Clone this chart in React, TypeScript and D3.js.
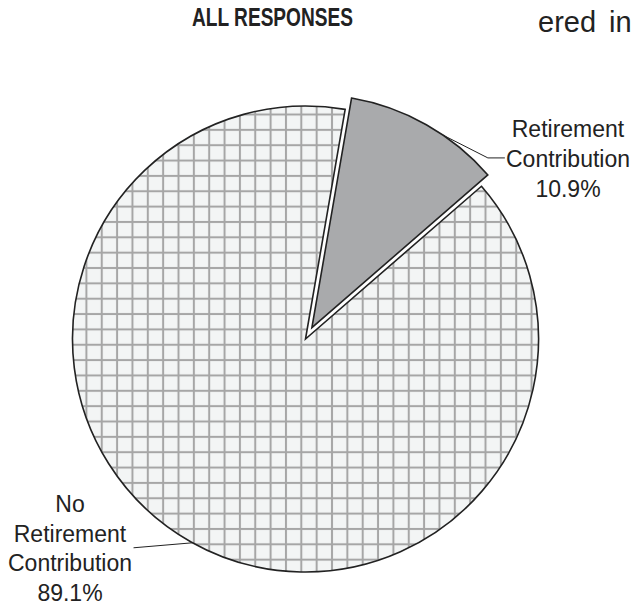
import { useEffect, useRef } from 'react';
import * as d3 from 'd3';

const categories = ['Retirement Contribution', 'No Retirement Contribution'];
const shares = [10.9, 89.1];
const labelLines = [
  ['Retirement', 'Contribution', '10.9%'],
  ['No', 'Retirement', 'Contribution', '89.1%'],
];

export default function App() {
  const svgRef = useRef<SVGSVGElement>(null);

  useEffect(() => {
    const svg = d3.select(svgRef.current);
    svg.selectAll('*').remove();

    const W = 633, H = 606;
    const cx = 305.5, cy = 339, R = 233;
    const explode = 13;
    const start = (9.8 * Math.PI) / 180;
    const font = "'Liberation Sans', Arial, sans-serif";

    svg.attr('width', W).attr('height', H).attr('viewBox', `0 0 ${W} ${H}`);

    // grid hatch used by the big slice
    const step = 15.35;
    const pat = svg.append('defs').append('pattern')
      .attr('id', 'grid')
      .attr('patternUnits', 'userSpaceOnUse')
      .attr('width', step).attr('height', step)
      .attr('x', 210.7 - step / 2).attr('y', 205.3 - step / 2);
    pat.append('rect').attr('width', step).attr('height', step).attr('fill', '#f3f5f5');
    pat.append('rect').attr('x', step / 2 - 1).attr('y', 0).attr('width', 2).attr('height', step).attr('fill', '#a6a6a6');
    pat.append('rect').attr('x', 0).attr('y', step / 2 - 1).attr('width', step).attr('height', 2).attr('fill', '#a6a6a6');

    // page background
    svg.append('rect').attr('width', W).attr('height', H).attr('fill', '#fff');

    // title + stray text from the page
    svg.append('text').attr('x', 192).attr('y', 26)
      .attr('font-size', 25).attr('font-weight', 'bold')
      .attr('font-family', font)
      .attr('textLength', 161).attr('lengthAdjust', 'spacingAndGlyphs')
      .attr('fill', '#222')
      .text('ALL RESPONSES');
    svg.append('text').attr('x', 538).attr('y', 32)
      .attr('font-size', 29).attr('font-family', font).attr('fill', '#222')
      .attr('word-spacing', 5)
      .text('ered in');

    const data = categories.map((c, i) => ({ label: c, value: shares[i] }));
    const pie = d3.pie<{ label: string; value: number }>()
      .sort(null)
      .value(d => d.value)
      .startAngle(start)
      .endAngle(start + 2 * Math.PI);
    const arcs = pie(data);
    const arc = d3.arc<d3.PieArcDatum<{ label: string; value: number }>>()
      .innerRadius(0).outerRadius(R);

    const g = svg.append('g').attr('transform', `translate(${cx},${cy})`);

    const offset = (a: d3.PieArcDatum<any>, i: number) => {
      if (i !== 0) return [0, 0];
      const mid = (a.startAngle + a.endAngle) / 2;
      return [Math.sin(mid) * explode, -Math.cos(mid) * explode];
    };

    g.selectAll('path.slice')
      .data(arcs)
      .join('path')
      .attr('class', 'slice')
      .attr('d', arc)
      .attr('transform', (d, i) => `translate(${offset(d, i)})`)
      .attr('fill', (d, i) => (i === 0 ? '#a9aaac' : 'url(#grid)'))
      .attr('stroke', '#222')
      .attr('stroke-width', 1.6)
      .attr('stroke-linejoin', 'miter');

    // leader lines
    const pt = (ang: number, r: number, o: number[] = [0, 0]) =>
      [o[0] + Math.sin(ang) * r, o[1] - Math.cos(ang) * r];
    const deg = (v: number) => (v * Math.PI) / 180;

    const o0 = offset(arcs[0], 0);
    const p0 = pt(deg(34.3), R, o0);
    const e0 = pt(deg(45.2), 257);
    g.append('path')
      .attr('d', `M${p0[0]},${p0[1]}L${e0[0]},${e0[1]}L${e0[0] + 17},${e0[1]}`)
      .attr('fill', 'none').attr('stroke', '#222').attr('stroke-width', 1);

    const p1 = pt(deg(209), R);
    g.append('path')
      .attr('d', `M${p1[0]},${p1[1]}L${p1[0] - 59},${p1[1] + 5}`)
      .attr('fill', 'none').attr('stroke', '#222').attr('stroke-width', 1);

    // labels
    const lab0 = svg.append('text').attr('text-anchor', 'middle')
      .attr('font-size', 23).attr('font-family', font).attr('fill', '#222');
    labelLines[0].forEach((t, i) => {
      lab0.append('tspan').attr('x', 568).attr('y', 137 + i * 30).text(t);
    });
    const lab1 = svg.append('text').attr('text-anchor', 'middle')
      .attr('font-size', 23).attr('font-family', font).attr('fill', '#222');
    labelLines[1].forEach((t, i) => {
      lab1.append('tspan').attr('x', 70).attr('y', 512 + i * 29.5).text(t);
    });
  }, []);

  return (
    <svg
      ref={svgRef}
      style={{ position: 'absolute', left: 0, top: 0, display: 'block' }}
    />
  );
}
